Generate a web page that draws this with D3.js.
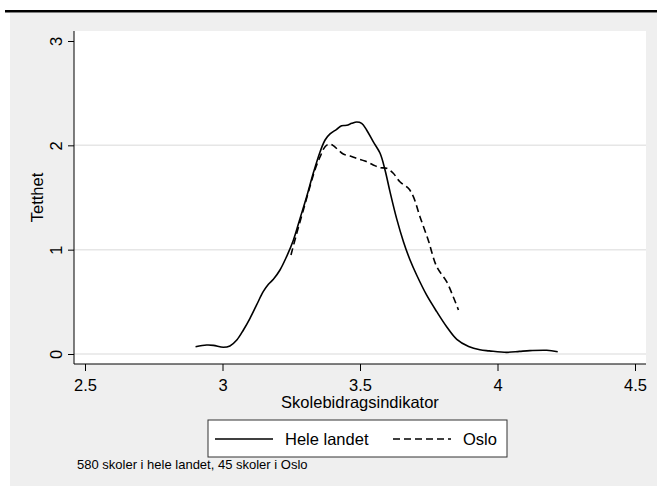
<!DOCTYPE html>
<html>
<head>
<meta charset="utf-8">
<script src="https://cdn.jsdelivr.net/npm/d3@7"></script>
<style>
  body { margin: 0; background: #ffffff; }
  text { font-family: "Liberation Sans", Arial, sans-serif; fill: #000; }
</style>
</head>
<body>
<div id="chart"></div>
<script>
// density of school indicator, whole country (solid)
const heleX = [2.902, 2.942, 2.967, 3.003, 3.027, 3.052, 3.076, 3.100, 3.124, 3.148, 3.167, 3.185,
  3.209, 3.233, 3.258, 3.282, 3.306, 3.330, 3.355, 3.373, 3.391, 3.415, 3.433, 3.452, 3.470,
  3.488, 3.506, 3.524, 3.548, 3.573, 3.591, 3.609, 3.633, 3.658, 3.682, 3.706, 3.742, 3.779,
  3.815, 3.852, 3.895, 3.936, 3.970, 4.033, 4.080, 4.118, 4.179, 4.219];
const heleY = [0.070, 0.086, 0.083, 0.064, 0.077, 0.134, 0.230, 0.342, 0.470, 0.597, 0.668, 0.716,
  0.805, 0.933, 1.093, 1.300, 1.508, 1.732, 1.939, 2.051, 2.109, 2.153, 2.188, 2.192, 2.211,
  2.224, 2.211, 2.147, 2.035, 1.924, 1.764, 1.556, 1.300, 1.077, 0.901, 0.757, 0.566, 0.406,
  0.262, 0.141, 0.072, 0.040, 0.030, 0.016, 0.025, 0.032, 0.036, 0.022];

// Oslo only (dashed)
const osloX = [3.249, 3.270, 3.294, 3.318, 3.336, 3.355, 3.373, 3.389, 3.403, 3.421, 3.439, 3.464,
  3.488, 3.518, 3.548, 3.573, 3.597, 3.621, 3.645, 3.676, 3.694, 3.718, 3.748, 3.779, 3.815,
  3.839, 3.858];
const osloY = [0.949, 1.157, 1.380, 1.604, 1.764, 1.891, 1.987, 2.013, 1.997, 1.955, 1.917, 1.898,
  1.875, 1.850, 1.812, 1.786, 1.780, 1.732, 1.651, 1.588, 1.508, 1.316, 1.093, 0.837, 0.693,
  0.549, 0.422];

const xTicks = [2.5, 3, 3.5, 4, 4.5];
const yTicks = [0, 1, 2, 3];
const gridTicks = [0, 1, 2];
const seriesNames = ["Hele landet", "Oslo"];
const noteText = "580 skoler i hele landet, 45 skoler i Oslo";

function zipSeries(xs, ys) {
  return xs.map((x, i) => ({ x: x, y: ys[i] }));
}

function plotDensity(divId) {
  const width = 657;
  const height = 486;
  // plot region (white box) in pixels
  const plot = { left: 74, right: 646, top: 31, bottom: 364 };

  const svg = d3.select("#" + divId)
    .append("svg")
    .attr("width", width)
    .attr("height", height);

  // thick rule under the (cut off) title
  svg.append("rect")
    .attr("x", 5).attr("y", 10)
    .attr("width", width - 5).attr("height", 2.5)
    .attr("fill", "#000");

  // gray graph region
  svg.append("rect")
    .attr("x", 10).attr("y", 13)
    .attr("width", width - 10).attr("height", height - 13)
    .attr("fill", "#efefef");

  // white plot region
  svg.append("rect")
    .attr("x", plot.left).attr("y", plot.top)
    .attr("width", plot.right - plot.left).attr("height", plot.bottom - plot.top)
    .attr("fill", "#ffffff");

  const xScale = d3.scaleLinear().domain([2.46, 4.54]).range([plot.left, plot.right]);
  const yScale = d3.scaleLinear().domain([0, 3]).range([354, 41]);

  // gridlines
  svg.append("g")
    .selectAll("line")
    .data(gridTicks)
    .enter()
    .append("line")
    .attr("x1", plot.left).attr("x2", plot.right)
    .attr("y1", (d) => yScale(d)).attr("y2", (d) => yScale(d))
    .attr("stroke", "#e6e6e6")
    .attr("stroke-width", 1.5);

  // y axis
  const yAxis = d3.axisLeft(yScale).tickValues(yTicks).tickSize(6).tickFormat(d3.format("d"));
  const gy = svg.append("g")
    .attr("transform", "translate(" + plot.left + ",0)")
    .call(yAxis);
  gy.select(".domain").attr("d", "M0," + plot.top + "V" + plot.bottom).attr("stroke", "#000");
  gy.selectAll(".tick line").attr("stroke", "#000");
  gy.selectAll(".tick text")
    .attr("x", null).attr("dy", null)
    .attr("transform", "translate(-12,0) rotate(-90)")
    .attr("text-anchor", "middle")
    .style("font-size", "16.5px")
    .style("font-family", "'Liberation Sans', Arial, sans-serif");

  // x axis
  const xAxis = d3.axisBottom(xScale).tickValues(xTicks).tickSize(7).tickFormat((d) => String(d));
  const gx = svg.append("g")
    .attr("transform", "translate(0," + plot.bottom + ")")
    .call(xAxis);
  gx.select(".domain").attr("d", "M" + plot.left + ",0H" + plot.right).attr("stroke", "#000");
  gx.selectAll(".tick line").attr("stroke", "#000");
  gx.selectAll(".tick text")
    .attr("y", 27).attr("dy", null)
    .style("font-size", "16.5px")
    .style("font-family", "'Liberation Sans', Arial, sans-serif");

  // axis titles
  svg.append("text")
    .attr("x", (plot.left + plot.right) / 2)
    .attr("y", 408)
    .attr("text-anchor", "middle")
    .style("font-size", "16.5px")
    .text("Skolebidragsindikator");

  svg.append("text")
    .attr("transform", "translate(43," + (plot.top + plot.bottom) / 2 + ") rotate(-90)")
    .attr("text-anchor", "middle")
    .style("font-size", "16.5px")
    .text("Tetthet");

  // density lines
  const line = d3.line()
    .x((d) => xScale(d.x))
    .y((d) => yScale(d.y))
    .curve(d3.curveCatmullRom);

  svg.append("path")
    .datum(zipSeries(heleX, heleY))
    .attr("d", line)
    .attr("fill", "none")
    .attr("stroke", "#000")
    .attr("stroke-width", 1.6);

  svg.append("path")
    .datum(zipSeries(osloX, osloY))
    .attr("d", line)
    .attr("fill", "none")
    .attr("stroke", "#000")
    .attr("stroke-width", 1.6)
    .attr("stroke-dasharray", "7,4");

  // legend
  const legend = svg.append("g").attr("transform", "translate(208,420)");
  legend.append("rect")
    .attr("width", 299).attr("height", 37)
    .attr("fill", "#fff")
    .attr("stroke", "#333")
    .attr("stroke-width", 1);

  const items = [
    { name: seriesNames[0], x: 7, dash: null },
    { name: seriesNames[1], x: 185, dash: "7,4" }
  ];
  items.forEach((item) => {
    legend.append("line")
      .attr("x1", item.x).attr("x2", item.x + 58)
      .attr("y1", 19).attr("y2", 19)
      .attr("stroke", "#000")
      .attr("stroke-width", 1.6)
      .attr("stroke-dasharray", item.dash);
    legend.append("text")
      .attr("x", item.x + 70)
      .attr("y", 25)
      .style("font-size", "16.5px")
      .text(item.name);
  });

  // note
  svg.append("text")
    .attr("x", 77)
    .attr("y", 469)
    .style("font-size", "13px")
    .text(noteText);
}

plotDensity("chart");
</script>
</body>
</html>
